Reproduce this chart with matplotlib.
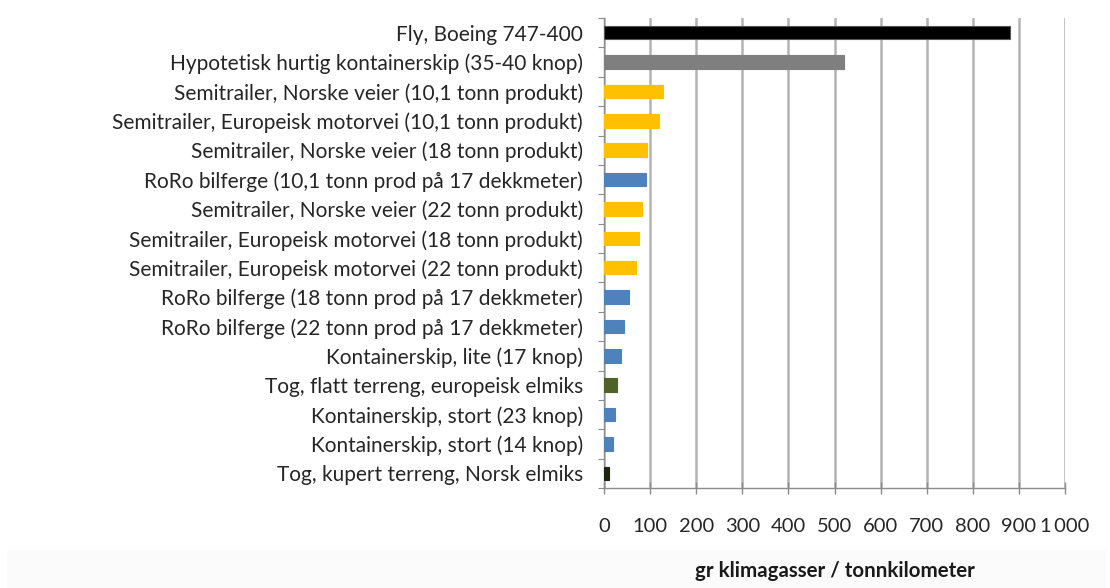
import matplotlib
matplotlib.use("Agg")
import matplotlib.pyplot as plt
from matplotlib.patches import Rectangle
from matplotlib.ticker import FixedLocator, FuncFormatter

categories = [
    "Fly, Boeing 747-400",
    "Hypotetisk hurtig kontainerskip (35-40 knop)",
    "Semitrailer, Norske veier (10,1 tonn produkt)",
    "Semitrailer, Europeisk motorvei (10,1 tonn produkt)",
    "Semitrailer, Norske veier (18 tonn produkt)",
    "RoRo bilferge (10,1 tonn prod på 17 dekkmeter)",
    "Semitrailer, Norske veier (22 tonn produkt)",
    "Semitrailer, Europeisk motorvei (18 tonn produkt)",
    "Semitrailer, Europeisk motorvei (22 tonn produkt)",
    "RoRo bilferge (18 tonn prod på 17 dekkmeter)",
    "RoRo bilferge (22 tonn prod på 17 dekkmeter)",
    "Kontainerskip, lite (17 knop)",
    "Tog, flatt terreng, europeisk elmiks",
    "Kontainerskip, stort (23 knop)",
    "Kontainerskip, stort (14 knop)",
    "Tog, kupert terreng, Norsk elmiks",
]
values = [880, 520, 127, 120, 94, 91, 83, 77, 69, 54, 43, 36, 28, 25, 20, 10]
transport_type = ["fly", "hurtigskip", "bil", "bil", "bil", "ferge", "bil", "bil",
                  "bil", "ferge", "ferge", "skip", "tog_eu", "skip", "skip", "tog_no"]
type_colors = {
    "fly": "#000000",
    "hurtigskip": "#7f7f7f",
    "bil": "#ffc000",
    "ferge": "#4f81bd",
    "skip": "#4f81bd",
    "tog_eu": "#4f6228",
    "tog_no": "#1e2612",
}
x_ticks = list(range(0, 1001, 100))
x_label = "gr klimagasser / tonnkilometer"

plt.rcParams["font.family"] = ["Lato", "DejaVu Sans"]
text_color = "#262626"

fig = plt.figure(figsize=(11.10, 5.88), dpi=100)
fig.patches.append(Rectangle((0.006, 0), 0.99, 0.0646, transform=fig.transFigure,
                             facecolor="#fbfbfb", edgecolor="none", zorder=-10))
ax = fig.add_axes([0.5441, 0.170, 0.4155, 0.7994])

ypos = list(range(len(categories)))
colors = [type_colors[t] for t in transport_type]
edges = ["#555555" if t == "fly" else c for t, c in zip(transport_type, colors)]
ax.barh(ypos, values, height=0.46, color=colors, edgecolor=edges,
        linewidth=0.8, zorder=3)

ax.set_xlim(0, 1000)
ax.set_ylim(15.5, -0.5)

ax.xaxis.set_major_locator(FixedLocator(x_ticks))
ax.xaxis.set_major_formatter(FuncFormatter(
    lambda v, p: f"{int(v):,}".replace(",", "\u2009") if v >= 1000 else f"{int(v)}"))
ax.grid(axis="x", color="#b4b4b4", linewidth=1.8, zorder=0)
ax.set_axisbelow(True)

ax.set_yticks(ypos)
ax.set_yticklabels(categories, fontsize=15, color=text_color)
ax.set_yticks([y + 0.5 for y in ypos[:-1]] + [-0.5, 15.5], minor=True)
ax.tick_params(axis="y", which="major", length=0, pad=15)
ax.tick_params(axis="y", which="minor", length=4, color="#8c8c8c", width=0.8)

ax.tick_params(axis="x", which="major", direction="inout", length=9,
               color="#8c8c8c", width=1.0, pad=17, labelsize=14.5,
               labelcolor=text_color)

for side in ("top", "right"):
    ax.spines[side].set_visible(False)
ax.spines["left"].set_color("#8c8c8c")
ax.spines["bottom"].set_color("#8c8c8c")
ax.spines["left"].set_linewidth(1.0)
ax.spines["bottom"].set_linewidth(1.0)

ax.set_xlabel(x_label, fontsize=14.8, fontweight="bold", labelpad=19,
              color="#1a1a1a")

fig.savefig("out.png", dpi=100)
